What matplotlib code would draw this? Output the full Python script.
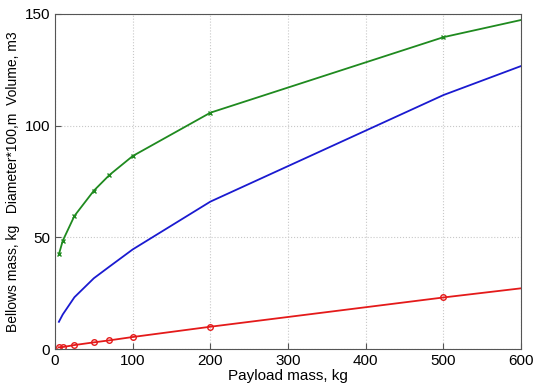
import matplotlib
matplotlib.use("Agg")
import matplotlib.pyplot as plt

plt.rcParams['font.family'] = ['Liberation Sans', 'DejaVu Sans']

# Payload mass, kg
payload = [5, 10, 25, 50, 70, 100, 200, 500, 600]

# Volume, m3 (green)
volume = [42.4, 48.5, 59.6, 70.9, 77.9, 86.4, 105.8, 139.6, 147.3]
# Diameter*100, m (blue)
diameter = [12.2, 15.5, 23.2, 31.7, 36.9, 44.6, 66.0, 113.7, 126.7]
# Bellows mass, kg (red)
bellows = [0.8, 0.9, 1.8, 3.0, 3.9, 5.4, 10.0, 23.1, 27.2]

xticks = [0, 100, 200, 300, 400, 500, 600]
yticks = [0, 50, 100, 150]

fig = plt.figure(figsize=(5.34, 3.87), dpi=100)
ax = fig.add_axes([0.103, 0.098, 0.873, 0.866])

ax.plot(payload, volume, color='#1f8a1f', lw=1.3, marker='x', markersize=3.5,
        markevery=list(range(len(payload) - 1)))
ax.plot(payload, diameter, color='#1a1ad0', lw=1.3)
ax.plot(payload, bellows, color='#e41a1a', lw=1.3, marker='o', markersize=4,
        markerfacecolor='none', markevery=list(range(len(payload) - 1)))

ax.set_xlim(0, 600)
ax.set_ylim(0, 150)
ax.set_xticks(xticks)
ax.set_yticks(yticks)
ax.tick_params(direction='in', labelsize=11, length=4, color='#555555')
ax.grid(True, linestyle=':', color='#c8c8c8', linewidth=0.8)
for s in ax.spines.values():
    s.set_color('#555555')
    s.set_linewidth(0.8)

ax.set_xlabel("Payload mass, kg", fontsize=11, labelpad=1)
ax.set_ylabel("Bellows mass, kg   Diameter*100,m  Volume, m3", fontsize=10, labelpad=3)

fig.savefig("out.png", dpi=100)
